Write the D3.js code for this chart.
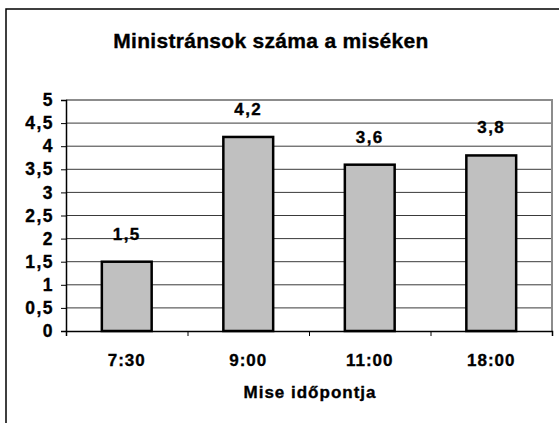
<!DOCTYPE html>
<html>
<head>
<meta charset="utf-8">
<script src="https://cdn.jsdelivr.net/npm/d3@7"></script>
<style>
  body { margin: 0; background: #fff; }
  text { font-family: Arial, "Liberation Sans", sans-serif; font-weight: bold; fill: #000; stroke: #000; stroke-width: 0.35px; }
</style>
</head>
<body>
<script>
// chart data
const categories = ['7:30', '9:00', '11:00', '18:00'];
const values = [1.5, 4.2, 3.6, 3.8];
const yTicks = [0, 0.5, 1, 1.5, 2, 2.5, 3, 3.5, 4, 4.5, 5];
const title = 'Ministránsok száma a miséken';
const xTitle = 'Mise időpontja';

const width = 559, height = 423;
const plot = { left: 66, right: 552, top: 100, bottom: 331 };

const svg = d3.select('body').append('svg')
  .attr('width', width)
  .attr('height', height);

// outer chart frame (cut off on the right and bottom)
svg.append('rect')
  .attr('x', 6).attr('y', 9)
  .attr('width', 600).attr('height', 500)
  .attr('fill', 'none')
  .attr('stroke', '#000')
  .attr('stroke-width', 1.5);

const x = d3.scaleBand()
  .domain(categories)
  .range([plot.left, plot.right])
  .paddingInner(0.59)
  .paddingOuter(0.295);

const y = d3.scaleLinear()
  .domain([0, 5])
  .range([plot.bottom, plot.top]);

const fmt = d => String(d).replace('.', ',');

// gridlines
svg.append('g')
  .selectAll('line')
  .data(yTicks.filter(d => d > 0 && d < 5))
  .enter().append('line')
  .attr('x1', plot.left).attr('x2', plot.right)
  .attr('y1', d => y(d)).attr('y2', d => y(d))
  .attr('stroke', '#3a3a3a')
  .attr('stroke-width', 1);

// plot border top/right (grey)
svg.append('path')
  .attr('d', `M${plot.left},${plot.top}H${plot.right}V${plot.bottom}`)
  .attr('fill', 'none')
  .attr('stroke', '#8c8c8c')
  .attr('stroke-width', 2);

// bars
svg.append('g')
  .selectAll('rect')
  .data(values)
  .enter().append('rect')
  .attr('x', (d, i) => x(categories[i]))
  .attr('width', x.bandwidth())
  .attr('y', d => y(d))
  .attr('height', d => y(0) - y(d))
  .attr('fill', '#c0c0c0')
  .attr('stroke', '#000')
  .attr('stroke-width', 2.5);

// value labels
svg.append('g')
  .selectAll('text')
  .data(values)
  .enter().append('text')
  .attr('x', (d, i) => x(categories[i]) + x.bandwidth() / 2)
  .attr('y', d => y(d) - 22)
  .attr('text-anchor', 'middle')
  .style('font-size', '17px')
  .style('letter-spacing', '1.5px')
  .text(d => fmt(d));

// y axis
const yAxis = svg.append('g')
  .attr('transform', `translate(${plot.left},0)`)
  .call(d3.axisLeft(y).tickValues(yTicks).tickSize(5).tickPadding(7).tickFormat(fmt));
yAxis.select('.domain').attr('stroke', '#000').attr('stroke-width', 1.5);
yAxis.selectAll('line').attr('stroke', '#000');
yAxis.selectAll('text')
  .attr('font-family', null).attr('font-size', null).attr('fill', null)
  .style('font-size', '17.5px')
  .style('letter-spacing', '1.5px');

// x axis with ticks between categories
const xEdges = d3.scaleLinear().domain([0, categories.length]).range([plot.left, plot.right]);
const xAxis = svg.append('g')
  .attr('transform', `translate(0,${plot.bottom})`)
  .call(d3.axisBottom(xEdges).tickValues(d3.range(categories.length + 1)).tickSize(5).tickFormat(''));
xAxis.select('.domain').attr('stroke', '#000').attr('stroke-width', 1.5);
xAxis.selectAll('line').attr('stroke', '#000');

svg.append('g')
  .selectAll('text')
  .data(categories)
  .enter().append('text')
  .attr('x', d => x(d) + x.bandwidth() / 2)
  .attr('y', 366)
  .attr('text-anchor', 'middle')
  .style('font-size', '17px')
  .style('letter-spacing', '1px')
  .text(d => d);

// titles
svg.append('text')
  .attr('x', 271).attr('y', 48)
  .attr('text-anchor', 'middle')
  .style('font-size', '21px')
  .style('letter-spacing', '0.3px')
  .text(title);

svg.append('text')
  .attr('x', 310).attr('y', 398)
  .attr('text-anchor', 'middle')
  .style('font-size', '17px')
  .style('letter-spacing', '1px')
  .text(xTitle);
</script>
</body>
</html>
